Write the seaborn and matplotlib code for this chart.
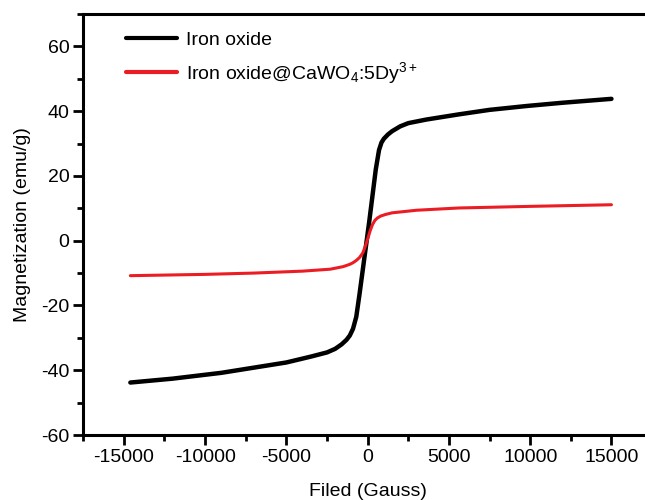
import numpy as np
import pandas as pd
import matplotlib
matplotlib.use("Agg")
import matplotlib.pyplot as plt
from matplotlib.ticker import MultipleLocator
import seaborn as sns

# Dades llegides de la figura (camp en Gauss, magnetització en emu/g)
field_fe = [-14600, -12000, -9000, -7000, -5000, -3500, -2500, -2000, -1600, -1300,
            -1100, -900, -700, -500, -300, -100, 100, 300, 500, 700, 850, 1000,
            1250, 1500, 2000, 2500, 3600, 5600, 7500, 9800, 12000, 15000]
mag_fe = [-43.8, -42.6, -40.8, -39.2, -37.6, -35.8, -34.5, -33.4, -32.0, -30.6,
          -29.3, -27.2, -23.5, -16.5, -9.0, -1.5, 6.0, 14.0, 22.0, 28.0, 30.3, 31.5,
          32.8, 33.8, 35.3, 36.3, 37.4, 39.0, 40.4, 41.6, 42.6, 43.8]

field_dy = [-14600, -10000, -7000, -4000, -2300, -1500, -1100, -900, -700, -500,
            -300, -150, 0, 150, 300, 450, 600, 800, 1100, 1500, 3000, 5600, 10000, 15000]
mag_dy = [-10.8, -10.4, -10.0, -9.4, -8.8, -8.0, -7.3, -6.8, -6.1, -5.2,
          -3.8, -1.8, 0.5, 3.0, 5.0, 6.3, 7.0, 7.6, 8.1, 8.6, 9.4, 10.1, 10.6, 11.1]

labels = ["Iron oxide", r"Iron oxide@CaWO$_4$:5Dy$^{3+}$"]

df = pd.concat([
    pd.DataFrame({"field": field_fe, "mag": mag_fe, "sample": labels[0]}),
    pd.DataFrame({"field": field_dy, "mag": mag_dy, "sample": labels[1]}),
])

sns.set_style("ticks")
plt.rcParams["font.family"] = ["Liberation Sans", "DejaVu Sans"]
plt.rcParams["mathtext.fontset"] = "custom"
plt.rcParams["mathtext.rm"] = "Liberation Sans"
plt.rcParams["mathtext.default"] = "regular"
plt.rcParams["axes.unicode_minus"] = False
plt.rcParams["text.color"] = "black"
plt.rcParams["axes.labelcolor"] = "black"
plt.rcParams["xtick.color"] = "black"
plt.rcParams["ytick.color"] = "black"
plt.rcParams["axes.edgecolor"] = "black"

fig = plt.figure(figsize=(6.45, 5.0), dpi=100)
ax = fig.add_axes([0.129, 0.13, 0.882, 0.842])

sns.lineplot(data=df, x="field", y="mag", hue="sample", sort=False,
             palette=["black", "#ec1c24"], ax=ax, estimator=None)
for line, lw in zip(ax.lines, [3.2, 2.2]):
    line.set_linewidth(lw)
    line.set_solid_joinstyle("round")

ax.set_xlim(-17500, 17500)
ax.set_ylim(-60, 70)
ax.xaxis.set_major_locator(MultipleLocator(5000))
ax.xaxis.set_minor_locator(MultipleLocator(2500))
ax.yaxis.set_minor_locator(MultipleLocator(10))
ax.set_yticks([-60, -40, -20, 0, 20, 40, 60])

for s in ax.spines.values():
    s.set_linewidth(2.2)
    s.set_color("black")
ax.tick_params(which="major", direction="out", length=7, width=2, labelsize=14, pad=3)
ax.tick_params(which="minor", direction="out", length=4.5, width=2)

ax.set_xlabel("Filed (Gauss)", fontsize=14, labelpad=12)
ax.set_ylabel("Magnetization (emu/g)", fontsize=14, labelpad=7)

leg = ax.legend(loc="upper left", frameon=False, fontsize=14,
                bbox_to_anchor=(0.045, 1.0), handlelength=2.6,
                labelspacing=0.55, handletextpad=0.45)
for h in leg.get_lines():
    h.set_linewidth(3)

fig.savefig("out.png", dpi=100)
